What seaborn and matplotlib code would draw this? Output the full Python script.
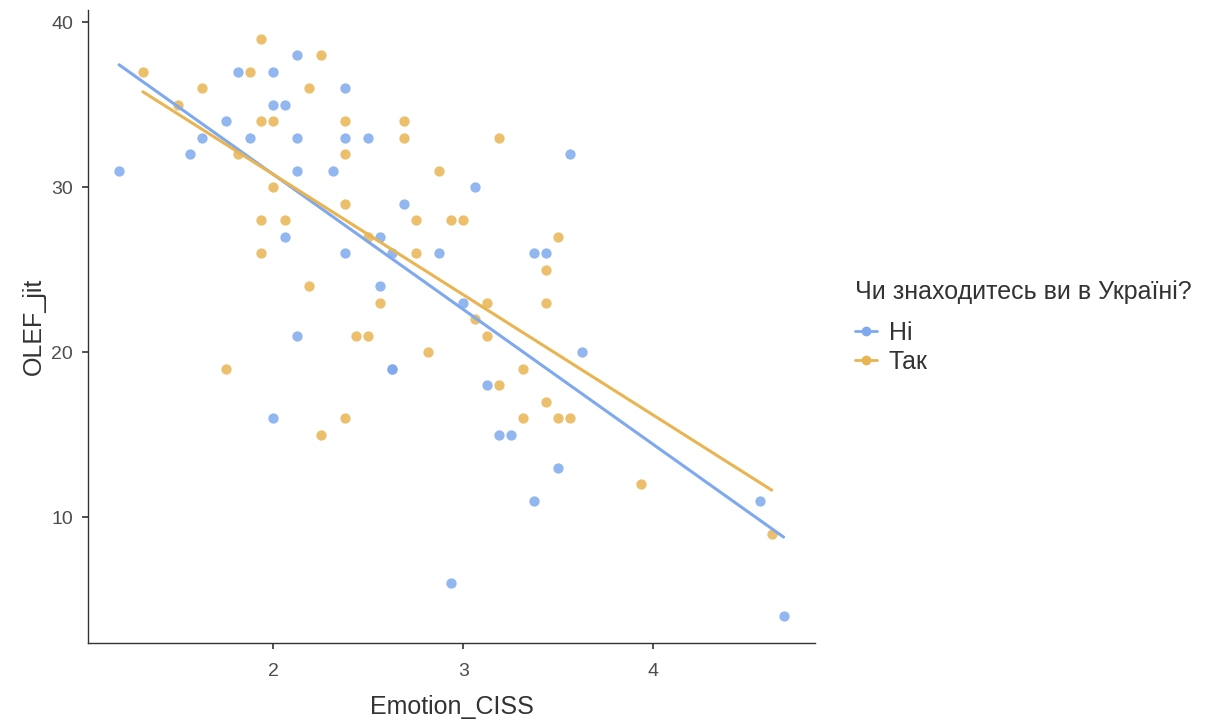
import pandas as pd
import seaborn as sns
import matplotlib.pyplot as plt
from matplotlib.lines import Line2D

# Ні group
ni_x = [1.1875, 1.5625, 1.625, 1.75, 1.8125, 1.875, 2.0, 2.0, 2.0625, 2.125,
        2.125, 2.125, 2.0625, 2.125, 2.0, 2.3125, 2.375, 2.375, 2.375, 2.5,
        2.5625, 2.625, 2.5625, 2.6875, 2.875, 3.0625, 3.0, 2.625, 2.625, 3.5625,
        3.375, 3.4375, 3.625, 3.125, 3.1875, 3.25, 3.5, 3.375, 2.9375, 4.5625,
        4.6875]
ni_y = [31, 32, 33, 34, 37, 33, 37, 35, 35, 38,
        33, 31, 27, 21, 16, 31, 36, 33, 26, 33,
        27, 26, 24, 29, 26, 30, 23, 19, 19, 32,
        26, 26, 20, 18, 15, 15, 13, 11, 6, 11,
        4]

# Так group
tak_x = [1.3125, 1.5, 1.625, 1.8125, 1.875, 1.9375, 1.9375, 2.0, 2.0, 1.9375,
         2.0625, 1.9375, 1.75, 2.1875, 2.25, 2.1875, 2.25, 2.375, 2.375, 2.375,
         2.375, 2.5, 2.4375, 2.5, 2.5625, 2.6875, 2.6875, 2.75, 2.75, 2.8125,
         2.875, 2.9375, 3.0, 3.0625, 3.125, 3.125, 3.1875, 3.1875, 3.3125, 3.3125,
         3.4375, 3.4375, 3.4375, 3.5, 3.5, 3.5625, 3.9375, 4.625]
tak_y = [37, 35, 36, 32, 37, 39, 34, 34, 30, 28,
         28, 26, 19, 36, 38, 24, 15, 34, 32, 29,
         16, 27, 21, 21, 23, 34, 33, 28, 26, 20,
         31, 28, 28, 22, 23, 21, 33, 18, 19, 16,
         25, 23, 17, 27, 16, 16, 12, 9]

groups = ['Ні', 'Так']
colors = {'Ні': '#7fa9ee', 'Так': '#e9b452'}

df = pd.concat([
    pd.DataFrame({'Emotion_CISS': ni_x, 'OLEF_jit': ni_y, 'g': 'Ні'}),
    pd.DataFrame({'Emotion_CISS': tak_x, 'OLEF_jit': tak_y, 'g': 'Так'}),
])

sns.set_style('white')
plt.rcParams['font.family'] = ['Liberation Sans', 'DejaVu Sans']

fig = plt.figure(figsize=(12.11, 7.25), dpi=100)
ax = fig.add_axes([0.073, 0.113, 0.6, 0.873])

for g in groups:
    sub = df[df['g'] == g]
    sns.regplot(data=sub, x='Emotion_CISS', y='OLEF_jit', ax=ax, ci=None,
                color=colors[g],
                scatter_kws={'s': 55, 'alpha': 0.85, 'linewidths': 0},
                line_kws={'lw': 2.2, 'alpha': 1})

ax.set_xlim(1.026, 4.853)
ax.set_ylim(2.36, 40.73)
ax.set_xticks([2, 3, 4])
ax.set_yticks([10, 20, 30, 40])
ax.tick_params(axis='both', labelsize=14, colors='#333333', labelcolor='#4d4d4d',
               length=4, width=1.2, direction='out', bottom=True, left=True)
ax.tick_params(axis='x', pad=10)
ax.tick_params(axis='y', pad=7)
ax.set_xlabel('Emotion_CISS', fontsize=18, color='#333333', labelpad=11)
ax.set_ylabel('OLEF_jit', fontsize=18, color='#333333', labelpad=4)
sns.despine(ax=ax)
for s in ['left', 'bottom']:
    ax.spines[s].set_color('#333333')
    ax.spines[s].set_linewidth(1)

# legend title drawn separately to get the ggplot-like gap
fig.text(0.706, 0.597, 'Чи знаходитесь ви в Україні?', fontsize=18,
         color='#333333', ha='left', va='center')
handles = [Line2D([0], [0], color=colors[g], lw=2, marker='o', markersize=6)
           for g in groups]
leg = fig.legend(handles, groups, loc='upper left',
                 bbox_to_anchor=(0.706, 0.557), frameon=False,
                 fontsize=18, handlelength=0.9, handletextpad=0.45,
                 labelspacing=0.2, borderaxespad=0, borderpad=0)
for t in leg.get_texts():
    t.set_color('#333333')

fig.savefig('out.png', dpi=100)
